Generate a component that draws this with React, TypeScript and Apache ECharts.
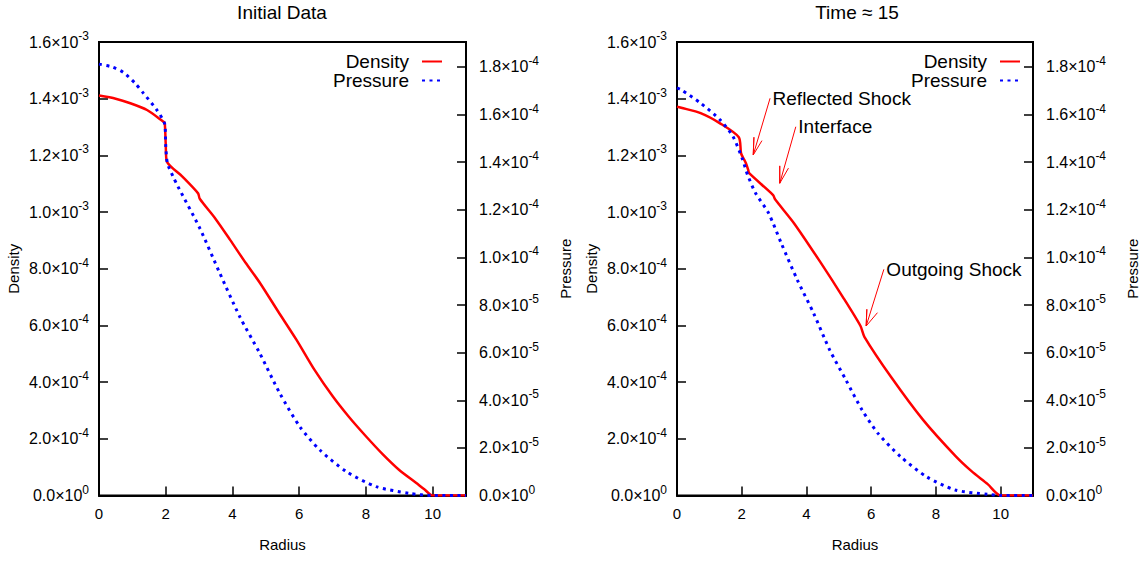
import React, { useEffect, useRef } from "react";
import * as echarts from "echarts";

const FONT = "Liberation Sans, Arial, Helvetica, sans-serif";

// ---- Initial data panel (radius, density x1e-3, pressure x1e-4)
const r0Density = [0, 0.5, 0.94, 1.44, 1.93, 1.97, 2.0, 2.03, 2.5, 2.97, 3.02, 3.5, 3.93, 4.4, 4.83, 5.37, 5.92, 6.46, 7.01, 7.5, 8.0, 8.5, 8.99, 9.5, 9.75, 10, 11];
const density0 = [1.411, 1.4, 1.384, 1.36, 1.319, 1.315, 1.24, 1.18, 1.125, 1.066, 1.047, 0.975, 0.902, 0.82, 0.749, 0.649, 0.549, 0.443, 0.349, 0.276, 0.209, 0.146, 0.091, 0.045, 0.022, 0, 0];
const r0Pressure = [0, 0.4, 0.73, 1.08, 1.33, 1.73, 1.97, 2.0, 2.05, 2.22, 2.37, 3.02, 3.62, 4.22, 4.82, 5.42, 6.02, 6.62, 7.42, 8.31, 9.31, 10, 11];
const pressure0 = [1.812, 1.8, 1.777, 1.732, 1.69, 1.62, 1.56, 1.47, 1.396, 1.34, 1.297, 1.123, 0.934, 0.751, 0.597, 0.429, 0.289, 0.191, 0.1, 0.037, 0.009, 0, 0];

// ---- Time ~ 15 panel
const r1Density = [0, 0.13, 0.73, 1.33, 1.91, 1.98, 2.08, 2.13, 2.2, 2.23, 2.97, 3.03, 3.62, 4.42, 5.12, 5.67, 5.79, 6.61, 7.61, 8.6, 9.1, 9.6, 10, 11];
const density1 = [1.372, 1.368, 1.349, 1.313, 1.264, 1.207, 1.184, 1.172, 1.149, 1.137, 1.06, 1.045, 0.96, 0.825, 0.701, 0.598, 0.56, 0.419, 0.266, 0.14, 0.086, 0.04, 0, 0];
const r1Pressure = [0, 0.13, 0.73, 1.33, 1.73, 2.03, 2.18, 2.43, 2.83, 3.22, 3.72, 4.22, 4.72, 5.22, 5.72, 6.21, 6.91, 7.71, 8.6, 9.6, 10, 11];
const pressure1 = [1.712, 1.704, 1.648, 1.578, 1.508, 1.41, 1.347, 1.27, 1.186, 1.06, 0.905, 0.766, 0.611, 0.485, 0.359, 0.261, 0.163, 0.079, 0.023, 0.005, 0, 0];

// ---- Annotations (radius, density x1e-3): tail, tip, head1, head2
const annotationLabels = ["Reflected Shock", "Interface", "Outgoing Shock"];
const annotationTail = [[2.876, 1.4016], [3.671, 1.301], [6.392, 0.798]];
const annotationTip = [[2.356, 1.2015], [3.175, 1.1016], [5.845, 0.598]];
const annotationHead1 = [[2.377, 1.264], [3.175, 1.163], [5.866, 0.657]];
const annotationHead2 = [[2.625, 1.252], [3.444, 1.155], [6.194, 0.645]];

const titles = ["Initial Data", "Time \u2248 15"];
const densityMax = 1.6e-3;
const densityStep = 2e-4;
const pressureMax = 1.905e-4;
const pressureStep = 2e-5;
const radiusMax = 11;
const radiusStep = 2;

function expLabel(v: number): string {
  if (Math.abs(v) < 1e-12) return "{m|0.0\u00d710}{e|0}";
  const s = v.toExponential(1);
  const [m, e] = s.split("e");
  return `{m|${m}\u00d710}{e|${parseInt(e, 10)}}`;
}

const rich = {
  m: { fontSize: 16, fontFamily: FONT, color: "#000", lineHeight: 24 },
  e: { fontSize: 12, fontFamily: FONT, color: "#000", verticalAlign: "top", lineHeight: 13 },
};

function zip(xs: number[], ys: number[], scale: number) {
  return xs.map((x, i) => [x, ys[i] * scale]);
}

export default function App() {
  const ref = useRef<HTMLDivElement>(null);
  useEffect(() => {
    if (!ref.current) return;
    const chart = echarts.init(ref.current, undefined, { renderer: "svg" });
    const gridLefts = [99, 677];
    const titleCenters = [282, 857];
    const gridWidth = 367;
    const gridTop = 42;
    const gridHeight = 453.5;

    const axisLine = { show: true, lineStyle: { color: "#000", width: 2 } };
    const axisTick = { show: true, inside: true, length: 9, lineStyle: { color: "#000", width: 1.5 } };
    const nameTextStyle = { fontSize: 15, fontFamily: FONT, color: "#000" };

    const grids: any[] = [];
    const xAxes: any[] = [];
    const yAxes: any[] = [];
    const series: any[] = [];
    const titleOpts: any[] = [];
    const legends: any[] = [];

    const panels = [
      { rd: r0Density, d: density0, rp: r0Pressure, p: pressure0 },
      { rd: r1Density, d: density1, rp: r1Pressure, p: pressure1 },
    ];

    panels.forEach((pn, i) => {
      grids.push({
        left: gridLefts[i], top: gridTop, width: gridWidth, height: gridHeight,
        show: true, borderColor: "#000", borderWidth: 2, backgroundColor: "transparent",
      });
      xAxes.push({
        gridIndex: i, type: "value", min: 0, max: radiusMax, interval: radiusStep,
        axisLine, axisTick, splitLine: { show: false },
        axisLabel: { fontSize: 15, fontFamily: FONT, color: "#000", margin: 10, showMaxLabel: false },
        name: "Radius", nameLocation: "middle", nameGap: 41, nameTextStyle,
      });
      yAxes.push({
        gridIndex: i, type: "value", position: "left", min: 0, max: densityMax, interval: densityStep,
        axisLine, axisTick, splitLine: { show: false },
        axisLabel: { formatter: expLabel, rich, margin: 10 },
        name: "Density", nameLocation: "middle", nameRotate: 90, nameGap: 78, nameTextStyle,
      });
      yAxes.push({
        gridIndex: i, type: "value", position: "right", min: 0, max: pressureMax, interval: pressureStep,
        axisLine, axisTick, splitLine: { show: false },
        axisLabel: { formatter: expLabel, rich, margin: 13, showMaxLabel: false },
        name: "Pressure", nameLocation: "middle", nameRotate: 90, nameGap: 92, nameTextStyle,
      });
      titleOpts.push({
        text: titles[i], left: titleCenters[i], top: 3, padding: 0, textAlign: "center",
        textStyle: { fontSize: 19, fontWeight: "normal", fontFamily: FONT, color: "#000" },
      });
      legends.push({
        data: ["Density", "Pressure"], orient: "vertical", align: "right",
        right: 1141 - (gridLefts[i] + gridWidth - 23), top: 52, padding: 0,
        itemWidth: 20, itemHeight: 14, itemGap: 0, selectedMode: false,
        itemStyle: { opacity: 0 },
        textStyle: { fontSize: 19, fontFamily: FONT, color: "#000", padding: [0, 8, 0, 0] },
      });
      series.push({
        name: "Density", type: "line", xAxisIndex: i, yAxisIndex: 2 * i,
        data: zip(pn.rd, pn.d, 1e-3), symbol: "none", silent: true,
        smooth: 0.25,
        lineStyle: { color: "#ff0000", width: 2.5 }, itemStyle: { color: "#ff0000" },
      });
      series.push({
        name: "Pressure", type: "line", xAxisIndex: i, yAxisIndex: 2 * i + 1,
        data: zip(pn.rp, pn.p, 1e-4), symbol: "none", silent: true,
        smooth: 0.25,
        lineStyle: { color: "#0000ff", width: 3, type: [3, 4.5], cap: "butt" }, itemStyle: { color: "#0000ff" },
      });
    });

    annotationLabels.forEach((label, k) => {
      const tail = annotationTail[k];
      const tip = annotationTip[k];
      const h1 = annotationHead1[k];
      const h2 = annotationHead2[k];
      series.push({
        name: "arrow" + k, type: "line", xAxisIndex: 1, yAxisIndex: 2, silent: true,
        symbol: "none",
        data: [tail, tip, h1, tip, h2].map((p) => [p[0], p[1] * 1e-3]),
        lineStyle: { color: "#ff0000", width: 1 },
        markPoint: {
          symbol: "circle", symbolSize: 1, itemStyle: { color: "rgba(0,0,0,0)" },
          silent: true,
          data: [{ coord: [tail[0], tail[1] * 1e-3] }],
          label: {
            show: true, position: "right", distance: 2, formatter: label,
            fontSize: 19, fontFamily: FONT, color: "#000",
          },
        },
      });
    });

    chart.setOption({
      animation: false,
      backgroundColor: "#fff",
      textStyle: { fontFamily: FONT },
      title: titleOpts,
      legend: legends,
      grid: grids,
      xAxis: xAxes,
      yAxis: yAxes,
      series,
    });
    return () => chart.dispose();
  }, []);
  return (
    <div
      ref={ref}
      style={{ position: "absolute", left: 0, top: 0, width: 1141, height: 562 }}
    />
  );
}
